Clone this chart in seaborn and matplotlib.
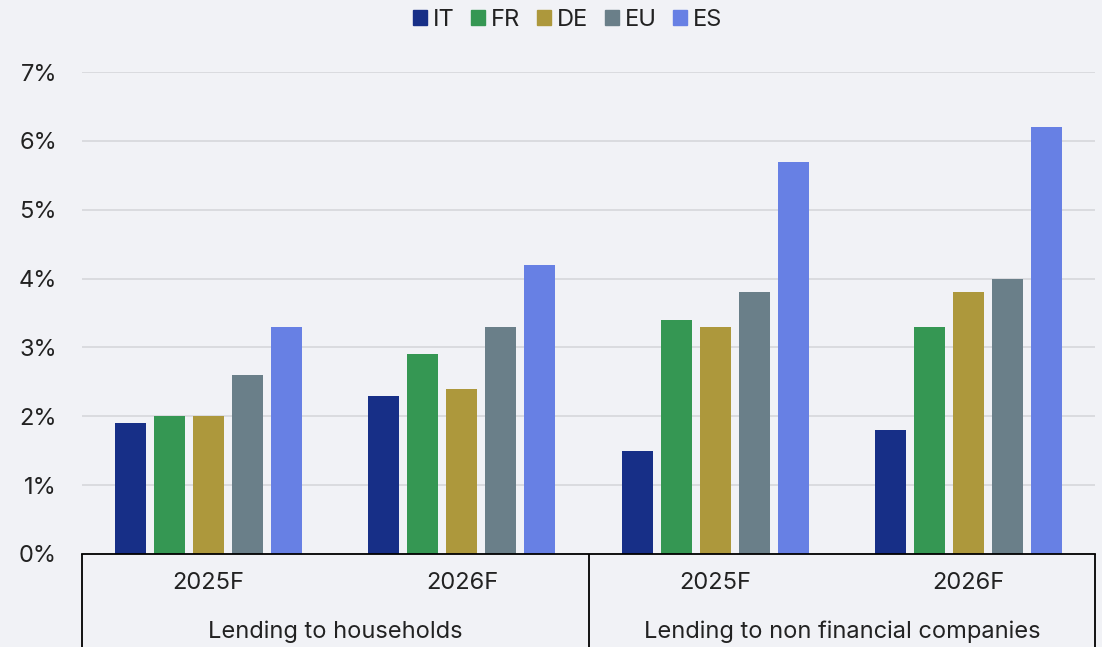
import pandas as pd
import matplotlib.pyplot as plt
import matplotlib.transforms as mtransforms
from matplotlib.patches import Patch
from matplotlib.ticker import FuncFormatter
import seaborn as sns

segments = ['Lending to households', 'Lending to non financial companies']
years = ['2025F', '2026F']
countries = ['IT', 'FR', 'DE', 'EU', 'ES']
colors = ['#172f87', '#359753', '#ad983c', '#6a7f89', '#6780e4']

# values per country, order: households 2025F, 2026F, companies 2025F, 2026F
it = [1.9, 2.3, 1.5, 1.8]
fr = [2.0, 2.9, 3.4, 3.3]
de = [2.0, 2.4, 3.3, 3.8]
eu = [2.6, 3.3, 3.8, 4.0]
es = [3.3, 4.2, 5.7, 6.2]

slots = [f'{s}|{y}' for s in segments for y in years]
rows = []
for c, vals in zip(countries, [it, fr, de, eu, es]):
    for slot, v in zip(slots, vals):
        rows.append({'slot': slot, 'country': c, 'value': v})
df = pd.DataFrame(rows)

sns.set_theme(style='white')
plt.rcParams['font.family'] = ['Inter', 'DejaVu Sans']
bg = '#f1f2f6'
txt = '#222222'
fs = 17

fig = plt.figure(figsize=(11.02, 6.47), dpi=100, facecolor=bg)
ax = fig.add_axes([82 / 1102, 1 - 554 / 647, (1095 - 82) / 1102, (554 - 72) / 647])
ax.set_facecolor(bg)

sns.barplot(data=df, x='slot', y='value', hue='country', order=slots,
            hue_order=countries, palette=colors, width=0.77, gap=0.2,
            saturation=1, linewidth=0, ax=ax, legend=False)

ax.set_xlim(-0.5, 3.5)
ax.set_ylim(0, 7)
ax.set_yticks(range(8))
ax.yaxis.set_major_formatter(FuncFormatter(lambda v, p: f'{v:.0f}%'))
ax.yaxis.grid(True, color='#d6d7db', lw=1.2)
ax.set_axisbelow(True)
ax.set_xlabel('')
ax.set_ylabel('')
ax.set_xticks(range(4))
ax.set_xticklabels(years * 2)
ax.tick_params(axis='x', length=0, pad=13, labelsize=fs, labelcolor=txt)
ax.tick_params(axis='y', length=0, pad=18, labelsize=fs, labelcolor=txt)

for side in ['top', 'right', 'left']:
    ax.spines[side].set_visible(False)
ax.spines['bottom'].set_color('black')
ax.spines['bottom'].set_linewidth(1.3)

# group boxes below the axis
trans = mtransforms.blended_transform_factory(ax.transData, ax.transAxes)
for x in [-0.5, 1.5, 3.5]:
    ax.plot([x, x], [0, -0.3], transform=trans, color='black', lw=1.3,
            clip_on=False, solid_capstyle='butt')
for i, s in enumerate(segments):
    ax.text(0.5 + 2 * i, -0.162, s, transform=trans, ha='center', va='center',
            fontsize=fs, color=txt)

handles = [Patch(color=c, label=n) for c, n in zip(colors, countries)]
fig.legend(handles=handles, loc='center', bbox_to_anchor=(0.515, 1 - 20 / 647),
           ncol=5, frameon=False, handlelength=0.6, handleheight=0.6,
           handletextpad=0.25, columnspacing=0.7, fontsize=fs,
           labelcolor=txt)

fig.savefig('out.png', dpi=100, facecolor=bg)
